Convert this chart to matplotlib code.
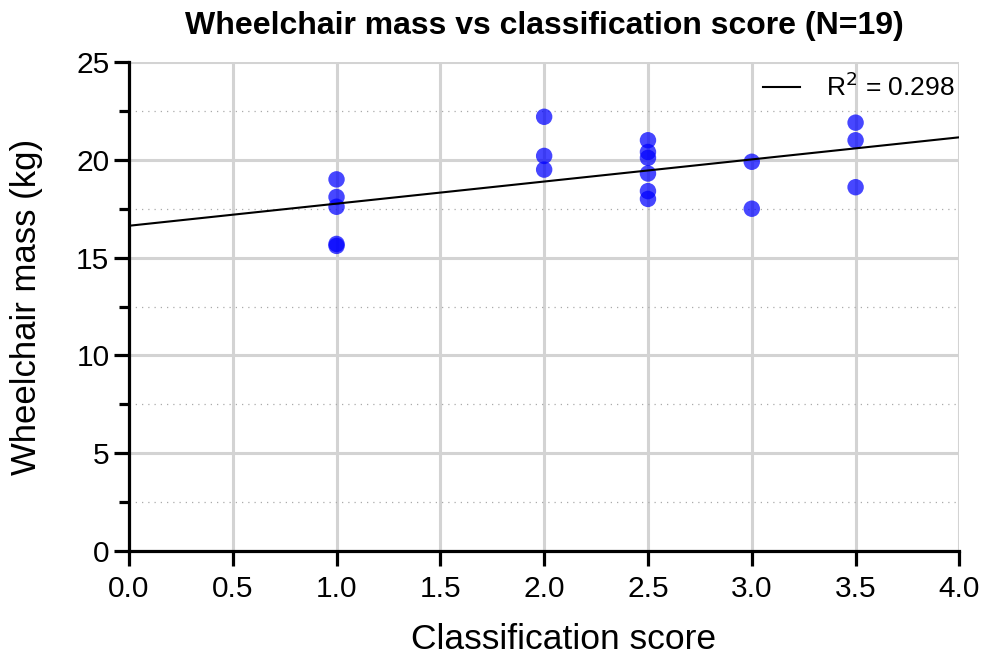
import numpy as np
import matplotlib.pyplot as plt
from matplotlib.ticker import MultipleLocator

plt.rcParams['font.family'] = ['Liberation Sans', 'DejaVu Sans']

# classification score and wheelchair mass (kg)
score = [1.0, 1.0, 1.0, 1.0, 1.0,
         2.0, 2.0, 2.0,
         2.5, 2.5, 2.5, 2.5, 2.5, 2.5,
         3.0, 3.0,
         3.5, 3.5, 3.5]
mass = [19.0, 18.1, 17.6, 15.7, 15.6,
        22.2, 20.2, 19.5,
        21.0, 20.4, 20.1, 19.3, 18.4, 18.0,
        19.9, 17.5,
        21.9, 21.0, 18.6]
r2_label = 'R$^2$ = 0.298'

score = np.array(score)
mass = np.array(mass)

fig = plt.figure(figsize=(9.84, 6.57), dpi=100)
ax = fig.add_axes([0.131, 0.1613, 0.844, 0.7443])

# regression line over full x range
z = np.polyfit(score, mass, 1)
p = np.poly1d(z)
xp = np.linspace(0, 4, 10)
ax.plot(xp, p(xp), '-', color='black', lw=1.5, label=r2_label, zorder=4)

ax.scatter(score, mass, s=140, color='#0000ff', alpha=0.72, edgecolors='none', zorder=3)

ax.set_xlim(0, 4)
ax.set_ylim(0, 25)
ax.xaxis.set_major_locator(MultipleLocator(0.5))
ax.yaxis.set_major_locator(MultipleLocator(5))
ax.yaxis.set_minor_locator(MultipleLocator(2.5))

ax.grid(which='major', color='#d3d3d3', lw=2.2, zorder=0)
ax.grid(which='minor', axis='y', color='#aaaaaa', lw=0.9, linestyle=(0, (1, 4)), zorder=0)
ax.set_axisbelow(True)

for s in ['top', 'right']:
    ax.spines[s].set_visible(False)
for s in ['left', 'bottom']:
    ax.spines[s].set_linewidth(2.3)
    ax.spines[s].set_zorder(5)

ax.tick_params(which='major', length=11, width=2.3, labelsize=21.5)
ax.tick_params(which='minor', length=7, width=2.3)
ax.tick_params(axis='x', which='major', pad=6)
ax.tick_params(axis='y', which='major', pad=3)
ax.xaxis.set_major_formatter(plt.FormatStrFormatter('%.1f'))
ax.yaxis.set_major_formatter(plt.FormatStrFormatter('%d'))

ax.set_xlabel('Classification score', fontsize=25.5)
ax.xaxis.set_label_coords(0.523, -0.148)
ax.set_ylabel('Wheelchair mass (kg)', fontsize=25, labelpad=24)
ax.set_title('Wheelchair mass vs classification score (N=19)', fontsize=23,
             fontweight='bold', pad=20)

ax.legend(loc='upper right', bbox_to_anchor=(1.007, 1.0), frameon=False, fontsize=19,
          handlelength=1.4, borderaxespad=0.0, handletextpad=1.0)

plt.savefig('out.png', dpi=100)
